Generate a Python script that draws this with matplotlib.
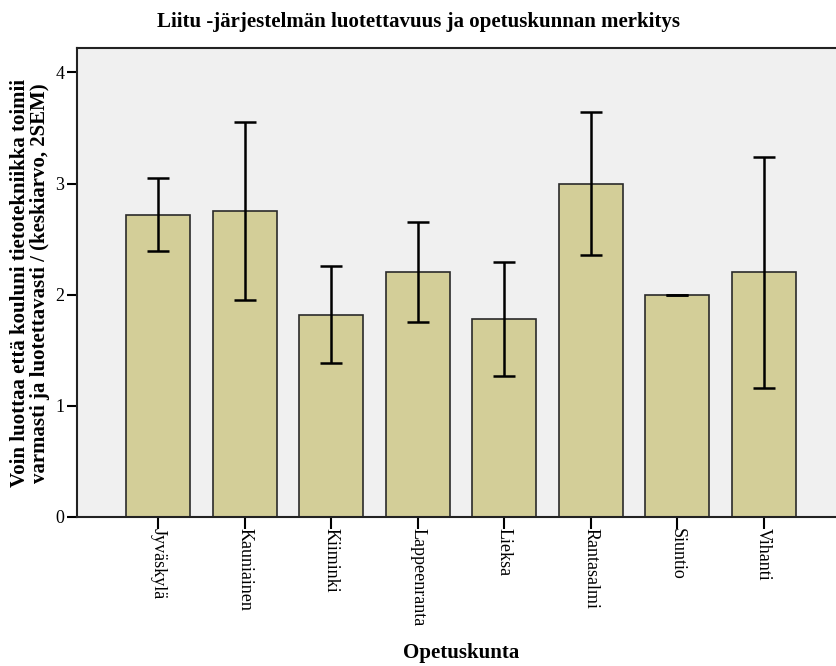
import matplotlib
matplotlib.use("Agg")
import matplotlib.pyplot as plt
import numpy as np

# Mean rating per teaching municipality with ±2 SEM error bars
municipalities = ["Jyväskylä", "Kauniainen", "Kiiminki", "Lappeenranta",
                  "Lieksa", "Rantasalmi", "Siuntio", "Vihanti"]
means = [2.72, 2.75, 1.82, 2.20, 1.78, 3.00, 2.00, 2.20]
two_sem = [0.33, 0.80, 0.44, 0.45, 0.51, 0.64, 0.00, 1.04]
yticks = [0, 1, 2, 3, 4]

serif = ["Liberation Serif", "DejaVu Serif"]
plt.rcParams["font.family"] = serif

W, H = 837, 666
fig = plt.figure(figsize=(W / 100, H / 100), dpi=100)
ax = fig.add_axes([0.092, 0.2242, 0.907, 0.704])
ax.set_facecolor("#F0F0F0")

x = np.arange(len(municipalities))
ax.bar(x, means, width=0.74, color="#D3CE98", edgecolor="#2a2a2a",
       linewidth=1.2, zorder=2)
ax.errorbar(x, means, yerr=two_sem, fmt="none", ecolor="black",
            elinewidth=1.8, capsize=8, capthick=1.8, zorder=3)

ax.set_xlim(-0.94, 7.84)
ax.set_ylim(0, 4.222)
ax.set_yticks(yticks)
ax.set_yticklabels([str(v) for v in yticks], fontsize=13)
ax.set_xticks(x)
ax.set_xticklabels(municipalities, rotation=270, fontsize=13,
                   va="top", ha="center")

ax.tick_params(axis="y", direction="out", length=7, width=1.5, pad=2)
ax.tick_params(axis="x", direction="out", length=8.5, width=1.5, pad=0)
for side in ["left", "bottom", "top", "right"]:
    ax.spines[side].set_linewidth(1.5)
    ax.spines[side].set_color("#222222")
ax.spines["right"].set_visible(False)

fig.text(0.5, 1 - 22 / H,
         "Liitu -järjestelmän luotettavuus ja opetuskunnan merkitys",
         fontsize=15, fontweight="bold", ha="center", va="center")
fig.text(461 / W, 1 - 653 / H, "Opetuskunta",
         fontsize=15, fontweight="bold", ha="center", va="center")
fig.text(30 / W, 1 - 283 / H,
         "Voin luottaa että kouluni tietotekniikka toimii\n"
         "varmasti ja luotettavasti / (keskiarvo, 2SEM)",
         fontsize=15, fontweight="bold", ha="center", va="center",
         rotation=90, linespacing=1.05, multialignment="center")

fig.savefig("out.png", dpi=100)
